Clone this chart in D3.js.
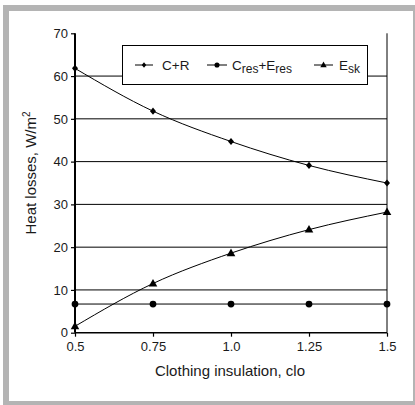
<!DOCTYPE html>
<html><head><meta charset="utf-8">
<script src="https://cdn.jsdelivr.net/npm/d3@7"></script>
<style>html,body{margin:0;padding:0;background:#fff;}svg{display:block;font-family:"Liberation Sans",Arial,sans-serif;}</style>
</head><body>
<script>
const clo = [0.5, 0.75, 1.0, 1.25, 1.5];
const cPlusR = [61.8, 51.8, 44.7, 39.1, 35.0];
const cresEres = [6.7, 6.7, 6.7, 6.7, 6.7];
const esk = [1.5, 11.5, 18.6, 24.1, 28.2];
const yTicks = [0, 10, 20, 30, 40, 50, 60, 70];
const xTickLabels = ["0.5", "0.75", "1.0", "1.25", "1.5"];

const W = 415, H = 405;
const svg = d3.select("body").append("svg").attr("width", W).attr("height", H);
svg.append("rect").attr("x", 6).attr("y", 8).attr("width", 410).attr("height", 396)
  .attr("fill", "#fff").attr("stroke", "#b4b4b4").attr("stroke-width", 6);

const L = 75, R = 387, T = 33.3, B = 332.7;
const x = d3.scaleLinear().domain([0.5, 1.5]).range([L, R]);
const y = d3.scaleLinear().domain([0, 70]).range([B, T]);
const txt = "#1a1a1a";

// gridlines
svg.append("g").selectAll("line").data(yTicks.filter(d => d > 0 && d < 70)).join("line")
  .attr("x1", L).attr("x2", R).attr("y1", d => y(d)).attr("y2", d => y(d))
  .attr("stroke", "#000").attr("stroke-width", 1);
// right border
svg.append("line").attr("x1", R).attr("x2", R).attr("y1", T).attr("y2", B)
  .attr("stroke", "#000").attr("stroke-width", 1);

// axes
const yAxis = d3.axisLeft(y).tickValues(yTicks).tickSize(4).tickPadding(3).tickFormat(d3.format("d"));
const gy = svg.append("g").attr("transform", `translate(${L},0)`).call(yAxis);
gy.select(".domain").attr("stroke-width", 2).attr("d", `M0,${T}V${B}`);
gy.selectAll(".tick line").attr("stroke-width", 1.2);
gy.selectAll("text").attr("font-size", 13).attr("fill", txt).attr("font-family", "Liberation Sans, Arial, sans-serif");

const xAxis = d3.axisBottom(x).tickValues(clo).tickSize(4).tickPadding(5)
  .tickFormat((d, i) => xTickLabels[i]);
const gx = svg.append("g").attr("transform", `translate(0,${B})`).call(xAxis);
gx.select(".domain").attr("stroke-width", 1.5).attr("d", `M${L},0H${R}`);
gx.selectAll(".tick line").attr("stroke-width", 1.2);
gx.selectAll("text").attr("font-size", 13).attr("fill", txt).attr("font-family", "Liberation Sans, Arial, sans-serif");

// axis titles
svg.append("text").attr("x", 230).attr("y", 376).attr("text-anchor", "middle")
  .attr("font-size", 15).attr("fill", txt).text("Clothing insulation, clo");
const yt = svg.append("text").attr("transform", "translate(36,173) rotate(-90)")
  .attr("text-anchor", "middle").attr("font-size", 15).attr("fill", txt);
yt.append("tspan").text("Heat losses, W/m");
yt.append("tspan").attr("dy", -6).attr("font-size", 10).text("2");

// series
const line = d3.line().x(d => x(d[0])).y(d => y(d[1])).curve(d3.curveMonotoneX);
const series = [
  { name: "cr", vals: cPlusR, marker: "diamond" },
  { name: "res", vals: cresEres, marker: "circle" },
  { name: "esk", vals: esk, marker: "triangle" }
];
function markerPath(type, s) {
  if (type === "diamond") return `M0,${-3.6*s}L${3*s},0L0,${3.6*s}L${-3*s},0Z`;
  if (type === "triangle") return `M0,${-4.6*s}L${4.3*s},${3*s}L${-4.3*s},${3*s}Z`;
  return d3.symbol(d3.symbolCircle, 36 * s * s)();
}
series.forEach(sr => {
  const pts = clo.map((c, i) => [c, sr.vals[i]]);
  svg.append("path").attr("d", line(pts)).attr("fill", "none").attr("stroke", "#000").attr("stroke-width", 1);
  svg.append("g").selectAll("path").data(pts).join("path")
    .attr("transform", d => `translate(${x(d[0])},${y(d[1])})`)
    .attr("d", markerPath(sr.marker, 1)).attr("fill", "#000");
});

// legend
svg.append("rect").attr("x", 122.5).attr("y", 45.5).attr("width", 245).attr("height", 39)
  .attr("fill", "#fff").attr("stroke", "#000").attr("stroke-width", 1);
const ly = 65;
const legItems = [
  { x1: 135, x2: 153, marker: "diamond" },
  { x1: 207, x2: 227, marker: "circle" },
  { x1: 314, x2: 333, marker: "triangle" }
];
legItems.forEach(it => {
  svg.append("line").attr("x1", it.x1).attr("x2", it.x2).attr("y1", ly).attr("y2", ly)
    .attr("stroke", "#000").attr("stroke-width", 1);
  svg.append("path").attr("transform", `translate(${(it.x1 + it.x2) / 2},${ly})`)
    .attr("d", markerPath(it.marker, 0.75)).attr("fill", "#000");
});
const fs = 13.5, sub = 12;
svg.append("text").attr("x", 162).attr("y", 69.5).attr("font-size", fs).attr("fill", txt).text("C+R");
const t2 = svg.append("text").attr("x", 232).attr("y", 69.5).attr("font-size", fs).attr("fill", txt);
t2.append("tspan").text("C");
t2.append("tspan").attr("dy", 3.5).attr("font-size", sub).text("res");
t2.append("tspan").attr("dy", -3.5).text("+E");
t2.append("tspan").attr("dy", 3.5).attr("font-size", sub).text("res");
const t3 = svg.append("text").attr("x", 339).attr("y", 69.5).attr("font-size", fs).attr("fill", txt);
t3.append("tspan").text("E");
t3.append("tspan").attr("dy", 3.5).attr("font-size", sub).text("sk");
</script>
</body></html>
